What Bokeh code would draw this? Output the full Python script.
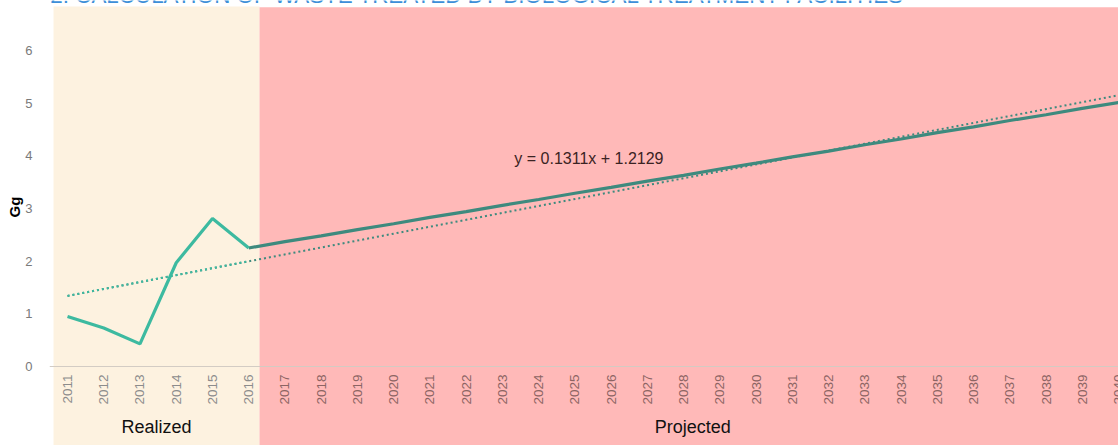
from bokeh.plotting import figure
from bokeh.models import Range1d, FixedTicker, Span, Title, Label
from bokeh.core.properties import value
from bokeh.embed import file_html
from bokeh.resources import INLINE

# ---- data ----
title_text = "FIGURE 2: CALCULATION OF WASTE TREATED BY BIOLOGICAL TREATMENT FACILITIES"
y_label = "Gg"
years_realized = [2011, 2012, 2013, 2014, 2015, 2016]
realized = [0.95, 0.73, 0.43, 1.97, 2.81, 2.25]
years_projected = list(range(2016, 2041))
projected = [2.25, 2.37, 2.48, 2.60, 2.71, 2.83, 2.94, 3.06, 3.17, 3.29,
             3.40, 3.52, 3.63, 3.75, 3.86, 3.98, 4.09, 4.21, 4.32, 4.44,
             4.55, 4.67, 4.78, 4.90, 5.01]
trend_years = [2011, 2040]
trend = [1.34, 5.15]
trend_years_realized = [2011, 2016]
trend_realized = [1.34, 2.00]
equation = "y = 0.1311x + 1.2129"
y_ticks = [0, 1, 2, 3, 4, 5, 6]
period_labels = ["Realized", "Projected"]

FONT = "Liberation Sans"

p = figure(width=1118, height=445, output_backend="svg", toolbar_location=None,
           x_range=Range1d(2010.503, 2040.0), y_range=Range1d(-1.5, 6.949),
           x_axis_location=None, min_border_left=49, min_border_right=0,
           min_border_top=0, min_border_bottom=0, outline_line_color=None,
           background_fill_color="white", border_fill_color="white")
p.grid.visible = False

# background period bands
p.quad(left=[2010.614], right=[2016.298], bottom=[-2], top=[6.835],
       fill_color="#FDF2E0", line_color=None)
p.quad(left=[2016.298], right=[2041], bottom=[-2], top=[6.82],
       fill_color="#FFB9B8", line_color=None)

# zero axis line
p.add_layout(Span(location=0, dimension="width", line_color="#d3ccc4", line_width=1))

# trend lines (dotted)
p.line(trend_years, trend, line_color="#3E8A7E", line_width=2, line_dash="2 3")
p.line(trend_years_realized, trend_realized, line_color="#3DBAA0", line_width=2, line_dash="2 3")

# series
p.line(years_projected, projected, line_color="#3E8A7E", line_width=3.2)
p.line(years_realized, realized, line_color="#3DBAA0", line_width=3.2)

# equation
p.text(x=[2023.33], y=[3.95], text=[equation], text_font=value(FONT),
       text_font_size="16px", text_color="#3b2323", text_baseline="middle",
       text_align="left")

# year tick labels
p.text(x=years_realized, y=-0.152, text=[str(y) for y in years_realized],
       angle=1.5707963, text_align="right", text_baseline="middle",
       text_font=value(FONT), text_font_size="13.5px", text_color="#8c8c8c")
proj_years = years_projected[1:]
p.text(x=proj_years, y=-0.152, text=[str(y) for y in proj_years],
       angle=1.5707963, text_align="right", text_baseline="middle",
       text_font=value(FONT), text_font_size="13.5px", text_color="#8c6463")

# period labels
p.text(x=[2013.456, 2028.25], y=[-1.158, -1.158], text=period_labels,
       text_align="center", text_baseline="middle", text_font=value(FONT),
       text_font_size="18px", text_color="#111111")

# title (cut off at the top as in the source), in screen units so that it is
# not clipped to the plot frame on the left
p.add_layout(Label(x=856, y=442, x_units="screen", y_units="screen",
                   text=title_text, text_align="right",
                   text_baseline="alphabetic", y_offset=8, text_font=FONT,
                   text_font_size="22.4px", text_color="#3d8fd8"))

# y axis
ax = p.yaxis[0]
ax.ticker = FixedTicker(ticks=y_ticks)
ax.axis_line_color = None
ax.major_tick_line_color = None
ax.minor_tick_line_color = None
ax.major_label_standoff = 11
ax.major_label_text_font = FONT
ax.major_label_text_font_size = "13px"
ax.major_label_text_color = "#7a7a7a"

# y axis label as a side title so it can sit at the reference height
p.add_layout(Title(text=y_label, align="left", offset=228, standoff=0,
                   text_font=FONT, text_font_size="15px", text_font_style="bold",
                   text_color="#000000"), "left")

open("out.html", "w").write(file_html(p, INLINE))
